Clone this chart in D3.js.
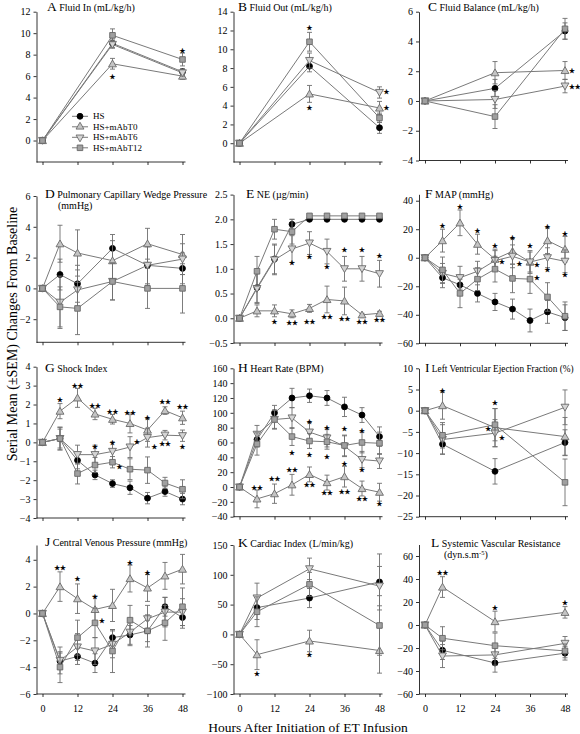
<!DOCTYPE html>
<html><head><meta charset="utf-8">
<script src="https://cdn.jsdelivr.net/npm/d3@7"></script>
<style>body{margin:0;background:#fff}svg{display:block}</style>
</head><body><svg id="c" width="580" height="734"></svg>
<script>
const seriesNames = ["HS", "HS+mAbT0", "HS+mAbT6", "HS+mAbT12"];
const hours3 = [0, 24, 48];
const hours6 = [0, 6, 12, 24, 36, 48];
const hours9 = [0, 6, 12, 18, 24, 30, 36, 42, 48];
const hours4 = [0, 6, 24, 48];
const xTicks = [0, 12, 24, 36, 48];

// A Fluid In
const fluidInMean = [[0, 9.05, 6.4], [0, 7.15, 6.0], [0, 8.95, 6.3], [0, 9.8, 7.55]];
const fluidInSem = [[0, 0.4, 0.3], [0, 0.5, 0.3], [0, 0.35, 0.3], [0, 0.6, 0.6]];
const fluidInStars = [[24, 5.95, "*", "c"], [48, 8.37, "*", "c"]];
// B Fluid Out
const fluidOutMean = [[0, 8.2, 1.65], [0, 5.25, 3.75], [0, 8.8, 5.4], [0, 10.8, 2.7]];
const fluidOutSem = [[0, 0.6, 0.6], [0, 0.9, 0.7], [0, 0.8, 0.6], [0, 1.0, 0.5]];
const fluidOutStars = [[24, 12.3, "*", "c"], [24, 3.72, "*", "c"], [48, 5.4, "*", "r"], [48, 3.72, "*", "r"]];
// C Fluid Balance
const balanceMean = [[0, 0.85, 4.7], [0, 1.9, 2.05], [0, 0.1, 1.0], [0, -1.05, 4.85]];
const balanceSem = [[0, 0.6, 0.55], [0, 0.75, 0.6], [0, 0.6, 0.45], [0, 0.8, 0.7]];
const balanceStars = [[48, 2.0, "*", "r"], [48, 0.95, "**", "r"]];
// D PCWP
const pcwpMean = [[0, 0.9, 0.3, 2.6, 1.5, 1.3], [0, 2.9, 2.3, 1.8, 2.9, 2.2], [0, -0.9, -0.1, 0.45, 1.5, 1.9], [0, -1.2, -1.3, 0.45, 0, 0]];
const pcwpSem = [[0, 1.0, 1.2, 0.9, 1.3, 1.0], [0, 1.2, 1.5, 1.3, 1.0, 1.3], [0, 1.7, 1.3, 1.2, 1.2, 1.0], [0, 1.3, 1.7, 1.2, 1.3, 1.6]];
const pcwpStars = [];
// E NE
const neMean = [[0, 0.62, 1.2, 1.9, 2.0, 2.0, 2.0, 2.0, 2.0], [0, 0.15, 0.15, 0.09, 0.2, 0.38, 0.35, 0.07, 0.1], [0, 0.6, 1.18, 1.4, 1.52, 1.35, 1.0, 1.0, 0.9], [0, 0.95, 1.8, 1.75, 2.07, 2.07, 2.07, 2.07, 2.07]];
const neSem = [[0, 0.3, 0.3, 0.1, 0, 0, 0, 0, 0], [0, 0.12, 0.12, 0.08, 0.08, 0.27, 0.28, 0.03, 0.04], [0, 0.3, 0.3, 0.27, 0.23, 0.25, 0.25, 0.25, 0.27], [0, 0.3, 0.2, 0.25, 0, 0, 0, 0, 0]];
const neStars = [[12, -0.07, "*", "c"], [18, -0.1, "**", "c"], [24, -0.07, "**", "c"], [30, 0.03, "**", "c"], [36, -0.02, "**", "c"], [42, -0.07, "**", "c"], [48, -0.03, "**", "c"],
  [18, 1.11, "*", "c"], [24, 1.23, "*", "c"], [30, 1.03, "*", "c"], [36, 1.38, "*", "c"], [42, 1.38, "*", "c"], [48, 1.26, "*", "c"]];
// F MAP
const mapMean = [[0, -14, -19, -25, -31, -36, -44, -38, -42], [0, 12, 24.5, 9.5, -1, 4.5, -3, 12, 6], [0, -11, -14, -9.5, -2, 1, -3, 0, -2.5], [0, -8.5, -25, -15, -8, -14.5, -15, -27.5, -41]];
const mapSem = [[0, 7, 7, 6, 6, 7, 8, 8, 9], [0, 8, 9, 7, 7, 9, 8, 9, 9], [0, 7, 8, 7, 7, 8, 7, 7, 8], [0, 9, 10, 8, 9, 10, 10, 10, 10]];
const mapStars = [[6, 22.1, "*", "c"], [12, 35.3, "*", "c"], [18, 18.8, "*", "c"], [24, 8, "*", "c"], [30, 14.1, "*", "c"], [36, 8, "*", "c"], [42, 21.6, "*", "c"], [48, 16.9, "*", "c"],
  [24, -3.1, "*", "r"], [30, -4.2, "*", "r"], [36, -4.9, "*", "r"], [36, -14.1, "*", "r"], [42, -8.9, "*", "c"], [48, -12, "*", "c"]];
// G Shock Index
const shockMean = [[0, 0.2, -0.95, -1.72, -2.18, -2.4, -2.95, -2.6, -3.0], [0, 1.65, 2.35, 1.5, 1.22, 1.0, 0.65, 1.68, 1.3], [0, 0.2, -0.65, -0.65, -0.48, -0.25, 0.25, 0.38, 0.35], [0, 0.2, -1.65, -1.2, -1.05, -1.42, -1.47, -2.15, -2.48]];
const shockSem = [[0, 0.5, 0.45, 0.25, 0.2, 0.35, 0.3, 0.25, 0.3], [0, 0.4, 0.5, 0.3, 0.25, 0.5, 0.6, 0.2, 0.35], [0, 0.6, 0.5, 0.5, 0.5, 0.55, 0.5, 0.25, 0.3], [0, 0.6, 0.55, 0.4, 0.3, 0.55, 0.7, 0.3, 0.5]];
const shockStars = [[6, 2.24, "*", "c"], [12, 3.0, "**", "c"], [18, 1.94, "**", "c"], [24, 1.62, "**", "c"], [30, 1.57, "**", "c"], [36, 1.27, "*", "c"], [42, 2.13, "**", "c"], [48, 1.89, "**", "c"],
  [18, -0.23, "*", "c"], [24, -0.05, "*", "c"], [30, 0.04, "*", "r"], [36, -0.26, "*", "r"], [42, -0.09, "**", "c"], [48, -0.26, "*", "c"], [24, -1.3, "*", "r"]];
// H Heart Rate
const hrMean = [[0, 64, 100, 120, 123, 120, 108, 97, 68], [0, -16, -9, 3, 17, 6, 14, -2, -7], [0, 71, 91, 93, 74, 66, 55, 37, 35], [0, 58, 91, 68, 62, 61, 56, 60, 59]];
const hrSem = [[0, 10, 10, 13, 9, 10, 13, 10, 13], [0, 12, 13, 14, 10, 10, 14, 10, 12], [0, 12, 13, 14, 13, 12, 14, 11, 10], [0, 15, 12, 12, 10, 10, 14, 14, 15]];
const hrStars = [[6, -0.9, "**", "c"], [12, 10.8, "**", "c"], [18, 23, "**", "c"], [24, 3.1, "**", "c"], [30, -8.5, "**", "c"], [36, -6.3, "**", "c"], [42, -15.7, "**", "c"], [48, -23, "*", "c"],
  [18, 46.3, "*", "c"], [24, 87.6, "*", "c"], [24, 43, "*", "c"], [30, 80, "*", "c"], [30, 40.4, "*", "c"], [36, 77.7, "*", "c"], [36, 31.5, "*", "c"], [42, 76, "*", "c"], [42, 23, "*", "c"]];
// I LVEF
const lvefMean = [[0, -7.9, -14.3, -7.5], [0, 1.2, -4.0, -6.1], [0, -6.8, -5.3, 0.8], [0, -5.8, -3.3, -16.9]];
const lvefSem = [[0, 2.3, 3.0, 3.0], [0, 3.2, 4.5, 4.5], [0, 3.5, 3.2, 4.1], [0, 3.0, 3.8, 5.5]];
const lvefStars = [[6, 4.7, "*", "c"], [24, 1.9, "*", "c"], [24, -4.4, "*", "l"], [24, -6.4, "*", "r"]];
// J CVP
const cvpMean = [[0, -3.55, -3.2, -3.7, -1.8, -1.6, -1.3, 0.5, -0.3], [0, 2.0, 1.1, 0.3, 0.6, 2.6, 1.9, 2.8, 3.3], [0, -3.5, -2.5, -2.8, -2.3, -1.4, -0.4, 0.1, 0.1], [0, -4.0, -1.8, -0.7, -2.8, -0.5, -1.3, -0.7, 0.5]];
const cvpSem = [[0, 0.6, 0.6, 0.7, 0.6, 0.7, 0.8, 0.7, 0.8], [0, 1.1, 1.1, 1.0, 1.2, 1.0, 1.0, 1.0, 1.1], [0, 1.0, 1.0, 1.0, 1.0, 1.0, 1.0, 1.1, 1.0], [0, 1.15, 1.3, 1.1, 1.6, 1.1, 1.2, 1.3, 1.4]];
const cvpStars = [[6, 3.38, "**", "c"], [12, 2.55, "*", "c"], [18, 1.25, "*", "c"], [18, -0.58, "*", "r"], [30, 3.75, "*", "c"], [36, 3.05, "*", "c"]];
// K Cardiac Index
const ciMean = [[0, 45, 61, 88], [0, -34, -11, -27], [0, 61, 110, 81], [0, 38, 84, 15]];
const ciSem = [[0, 20, 16, 47], [0, 25, 18, 38], [0, 25, 18, 33], [0, 25, 20, 50]];
const ciStars = [[6, -66, "*", "c"], [24, -34, "*", "c"]];
// L SVR
const svrMean = [[0, -22, -33, -24.5], [0, 33, 3, 11], [0, -27, -26, -16], [0, -11.5, -18, -22.5]];
const svrSem = [[0, 8, 8, 6], [0, 9, 9, 5], [0, 10, 9, 6], [0, 10, 11, 6]];
const svrStars = [[6, 45, "**", "c"], [24, 14.5, "*", "c"], [48, 19.4, "*", "c"]];

// ---------- layout ----------
const cols = [{axisX: 36.5, x0: 42.5}, {axisX: 233.5, x0: 239.5}, {axisX: 419, x0: 425}];
const plotW = 140;
const panels = [
  {letter: "A", title: ["Fluid In (mL/kg/h)"], col: 0, tx: 47, ty: 11, hours: hours3, mean: fluidInMean, sem: fluidInSem, stars: fluidInStars, dom: [-2, 12], rng: [162, 11.7], ticks: d3.range(0, 13, 2), legend: true},
  {letter: "B", title: ["Fluid Out (mL/kg/h)"], col: 1, tx: 238, ty: 11, hours: hours3, mean: fluidOutMean, sem: fluidOutSem, stars: fluidOutStars, dom: [-2, 14], rng: [162, 11.7], ticks: d3.range(0, 15, 2)},
  {letter: "C", title: ["Fluid Balance (mL/kg/h)"], col: 2, tx: 428, ty: 11, hours: hours3, mean: balanceMean, sem: balanceSem, stars: balanceStars, dom: [-4, 6], rng: [160.5, 11.7], ticks: d3.range(-4, 7, 2)},
  {letter: "D", title: ["Pulmonary Capillary Wedge Pressure", "(mmHg)"], col: 0, tx: 45, ty: 198, hours: hours6, mean: pcwpMean, sem: pcwpSem, stars: pcwpStars, dom: [-3.5, 6], rng: [342.3, 196], ticks: d3.range(-2, 7, 2)},
  {letter: "E", title: ["NE (µg/min)"], col: 1, tx: 246, ty: 198, hours: hours9, mean: neMean, sem: neSem, stars: neStars, dom: [-0.5, 2.5], rng: [343, 194.6], ticks: [-0.5, 0, 0.5, 1, 1.5, 2, 2.5], fmt: d3.format(".1f")},
  {letter: "F", title: ["MAP (mmHg)"], col: 2, tx: 425, ty: 198, hours: hours9, mean: mapMean, sem: mapSem, stars: mapStars, dom: [-60, 44.5], rng: [343.3, 194.3], ticks: d3.range(-60, 41, 20)},
  {letter: "G", title: ["Shock Index"], col: 0, tx: 45, ty: 372, hours: hours9, mean: shockMean, sem: shockSem, stars: shockStars, dom: [-4, 4], rng: [518, 366.7], ticks: d3.range(-4, 5, 1)},
  {letter: "H", title: ["Heart Rate (BPM)"], col: 1, tx: 238, ty: 372, hours: hours9, mean: hrMean, sem: hrSem, stars: hrStars, dom: [-40, 160], rng: [516.7, 368.3], ticks: d3.range(-40, 161, 20)},
  {letter: "I", title: ["Left Ventricular Ejection Fraction (%)"], col: 2, tx: 425, ty: 372, hours: hours4, mean: lvefMean, sem: lvefSem, stars: lvefStars, dom: [-25, 10], rng: [516.7, 368.3], ticks: d3.range(-25, 11, 5), titleSize: 9.3},
  {letter: "J", title: ["Central Venous Pressure (mmHg)"], col: 0, tx: 45, ty: 546, hours: hours9, mean: cvpMean, sem: cvpSem, stars: cvpStars, dom: [-6, 5.1], rng: [694, 545], ticks: d3.range(-6, 5, 2), xLabels: true},
  {letter: "K", title: ["Cardiac Index (L/min/kg)"], col: 1, tx: 238, ty: 547, hours: hours4, mean: ciMean, sem: ciSem, stars: ciStars, dom: [-100, 150], rng: [694, 545], ticks: d3.range(-100, 151, 50), xLabels: true},
  {letter: "L", title: ["Systemic Vascular Resistance", "(dyn.s.m|-5|)"], col: 2, tx: 431, ty: 547, hours: hours4, mean: svrMean, sem: svrSem, stars: svrStars, dom: [-60, 70], rng: [694, 544.5], ticks: d3.range(-60, 61, 20), xLabels: true}
];

const FONT = "'Liberation Serif','Times New Roman',serif";
const lineCol = "#7a7a7a";
const styles = [
  {sym: d3.symbolCircle, size: 27, fill: "#000", stroke: "#000", rot: 0},
  {sym: d3.symbolTriangle, size: 27, fill: "#c4c4c4", stroke: "#6a6a6a", rot: 0},
  {sym: d3.symbolTriangle, size: 27, fill: "#d4d4d4", stroke: "#6a6a6a", rot: 180},
  {sym: d3.symbolSquare, size: 31, fill: "#a0a0a0", stroke: "#666", rot: 0}
];

const svg = d3.select("#c").style("font-family", FONT);

panels.forEach(p => {
  const c = cols[p.col];
  const x = d3.scaleLinear().domain([0, 48]).range([c.x0, c.x0 + plotW]);
  const y = d3.scaleLinear().domain(p.dom).range(p.rng);
  const g = svg.append("g");

  // y axis
  const ya = g.append("g").attr("transform", `translate(${c.axisX},0)`)
    .call(d3.axisLeft(y).tickValues(p.ticks).tickSize(3).tickSizeOuter(0).tickPadding(3).tickFormat(p.fmt || d3.format("d")));
  ya.selectAll("text").attr("font-size", 10).attr("font-family", FONT).attr("fill", "#000");
  ya.selectAll("path,line").attr("stroke", "#000").attr("stroke-width", 0.8);

  // x axis
  const yb = p.rng[0];
  const xa = g.append("g").attr("transform", `translate(0,${yb})`)
    .call(d3.axisBottom(x).tickValues(xTicks).tickSize(3).tickSizeOuter(0).tickPadding(8).tickFormat(p.xLabels ? d3.format("d") : () => ""));
  xa.select(".domain").remove();
  xa.append("line").attr("x1", c.axisX).attr("x2", x(48) + 3).attr("stroke", "#000").attr("stroke-width", 0.8);
  xa.selectAll("text").attr("font-size", 10).attr("font-family", FONT).attr("fill", "#000");
  xa.selectAll(".tick line").attr("stroke", "#000").attr("stroke-width", 0.8);

  // title
  const t = g.append("text").attr("x", p.tx).attr("y", p.ty).attr("fill", "#000");
  t.append("tspan").attr("font-size", 13.5).text(p.letter);
  t.append("tspan").attr("font-size", p.titleSize || 10).text(" " + p.title[0]);
  if (p.title[1]) {
    const t2 = g.append("text").attr("x", p.tx + 13).attr("y", p.ty + 11).attr("font-size", 10).attr("fill", "#000");
    const parts = p.title[1].split("|");
    t2.append("tspan").text(parts[0]);
    if (parts.length > 1) {
      t2.append("tspan").attr("font-size", 6.5).attr("dy", -3.5).text(parts[1]);
      t2.append("tspan").attr("dy", 3.5).text(parts[2]);
    }
  }

  // series
  p.mean.forEach((vals, si) => {
    const st = styles[si];
    const pts = vals.map((v, i) => ({h: p.hours[i], v, e: p.sem[si][i]}));
    const sg = g.append("g");
    sg.append("path").datum(pts)
      .attr("d", d3.line().x(d => x(d.h)).y(d => y(d.v)))
      .attr("fill", "none").attr("stroke", lineCol).attr("stroke-width", 1);
    const eb = sg.selectAll("g.eb").data(pts.filter(d => d.e > 0)).join("g").attr("stroke", "#6e6e6e").attr("stroke-width", 0.9);
    eb.append("line").attr("x1", d => x(d.h)).attr("x2", d => x(d.h)).attr("y1", d => y(d.v - d.e)).attr("y2", d => y(d.v + d.e));
    eb.append("line").attr("x1", d => x(d.h) - 2.5).attr("x2", d => x(d.h) + 2.5).attr("y1", d => y(d.v + d.e)).attr("y2", d => y(d.v + d.e));
    eb.append("line").attr("x1", d => x(d.h) - 2.5).attr("x2", d => x(d.h) + 2.5).attr("y1", d => y(d.v - d.e)).attr("y2", d => y(d.v - d.e));
    sg.selectAll("path.m").data(pts).join("path").attr("class", "m")
      .attr("d", d3.symbol().type(st.sym).size(st.size))
      .attr("transform", d => `translate(${x(d.h)},${y(d.v) + (st.rot ? -0.8 : (si === 1 ? 0.8 : 0))}) rotate(${st.rot})`)
      .attr("fill", st.fill).attr("stroke", st.stroke).attr("stroke-width", 0.9);
  });

  // significance stars
  g.selectAll("text.star").data(p.stars).join("text").attr("class", "star")
    .attr("x", d => x(d[0]) + (d[3] === "r" ? 4 : d[3] === "l" ? -4 : 0))
    .attr("y", d => y(d[1]))
    .attr("text-anchor", d => d[3] === "r" ? "start" : d[3] === "l" ? "end" : "middle")
    .attr("dominant-baseline", "central")
    .attr("font-family", "'DejaVu Sans',sans-serif").attr("font-size", 6.5)
    .attr("fill", "#000").attr("stroke", "#000").attr("stroke-width", 0.3)
    .text(d => d[2].replace(/\*/g, "★"));

  // legend
  if (p.legend) {
    seriesNames.forEach((name, si) => {
      const st = styles[si];
      const ly = 116.3 + si * 10.5;
      const lg = g.append("g");
      lg.append("line").attr("x1", 72).attr("x2", 88).attr("y1", ly).attr("y2", ly).attr("stroke", lineCol).attr("stroke-width", 1);
      lg.append("path").attr("d", d3.symbol().type(st.sym).size(st.size)())
        .attr("transform", `translate(80,${ly}) rotate(${st.rot})`)
        .attr("fill", st.fill).attr("stroke", st.stroke).attr("stroke-width", 0.9);
      lg.append("text").attr("x", 93).attr("y", ly).attr("dominant-baseline", "central")
        .attr("font-size", 9).attr("fill", "#000").text(name);
    });
  }
});

// axis titles
svg.append("text").attr("transform", "translate(17,334) rotate(-90)").attr("text-anchor", "middle")
  .attr("font-size", 14).attr("fill", "#000").text("Serial Mean (±SEM) Changes From Baseline");
svg.append("text").attr("x", 308).attr("y", 732).attr("text-anchor", "middle")
  .attr("font-size", 13.5).attr("fill", "#000").text("Hours After Initiation of ET Infusion");
</script></body></html>
